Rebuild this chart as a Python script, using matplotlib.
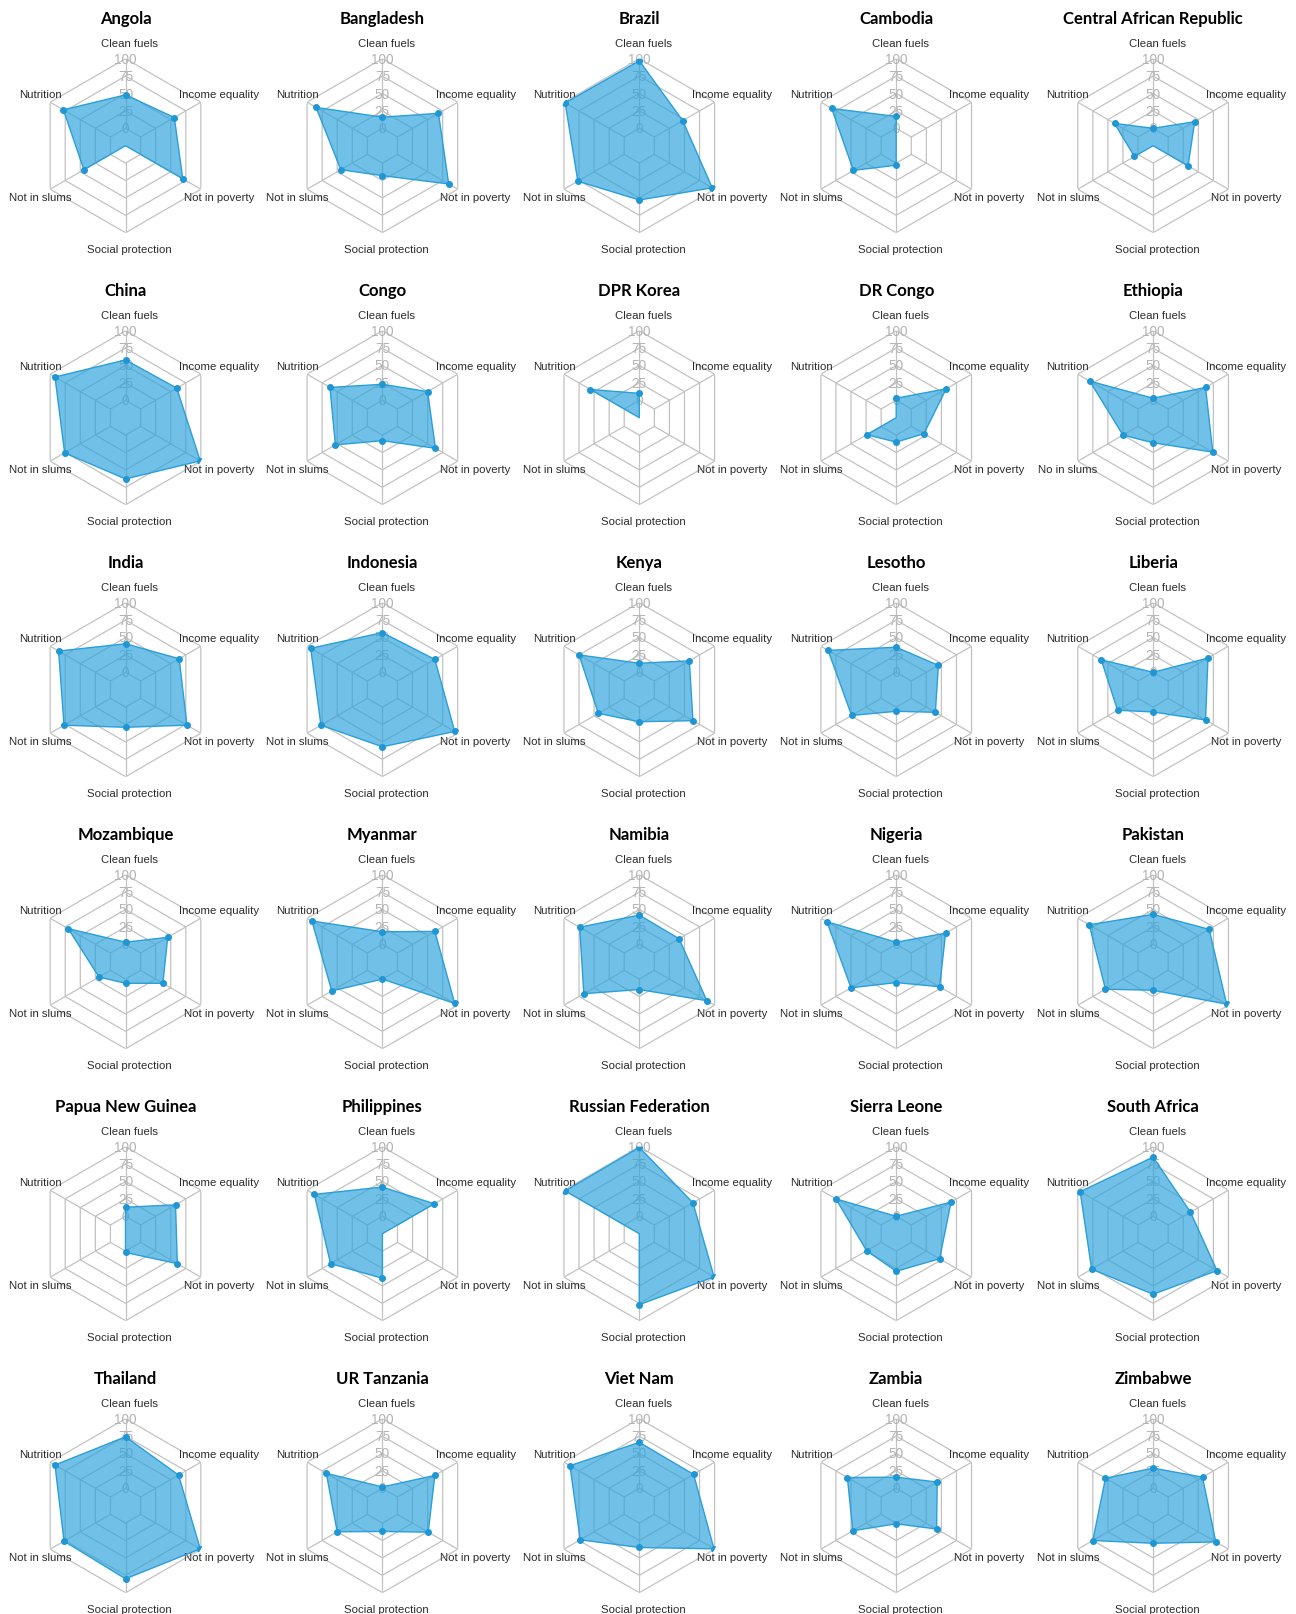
import numpy as np
import matplotlib
matplotlib.use("Agg")
import matplotlib.pyplot as plt
from matplotlib.transforms import offset_copy

# ---------------- data ----------------
countries = [
    "Angola", "Bangladesh", "Brazil", "Cambodia", "Central African Republic",
    "China", "Congo", "DPR Korea", "DR Congo", "Ethiopia",
    "India", "Indonesia", "Kenya", "Lesotho", "Liberia",
    "Mozambique", "Myanmar", "Namibia", "Nigeria", "Pakistan",
    "Papua New Guinea", "Philippines", "Russian Federation", "Sierra Leone", "South Africa",
    "Thailand", "UR Tanzania", "Viet Nam", "Zambia", "Zimbabwe",
]
clean_fuels = [48, 16, 97, 17, 0,
               58, 23, 10, 3, 3,
               41, 57, 13, 36, 0,
               3, 18, 42, 3, 43,
               13, 42, 99, 0, 85,
               74, 2, 66, 16, 29]
income_equality = [56, 68, 47, None, 44,
                   60, 50, None, 58, 62,
                   64, 62, 58, 45, 66,
                   45, 62, 41, 57, 68,
                   58, 61, 64, 66, 37,
                   63, 62, 65, 43, 57]
not_in_poverty = [70, 85, 96, None, 33,
                  99, 63, None, 21, 74,
                  77, 95, 64, 40, 62,
                  37, 95, 87, 47, 97,
                  61, None, 99, 47, 81,
                  99, 51, 99, 42, 79]
social_protection = [None, 18, 53, 3, None,
                     63, 8, None, 10, 11,
                     29, 57, 21, 6, 7,
                     6, 0, 15, 5, 16,
                     2, 39, 77, 29, 62,
                     80, 12, 35, 1, 29]
not_in_slums = [44, 44, 77, 46, 6,
                76, 53, None, 24, 25,
                77, 77, 43, 49, 34,
                19, 59, 67, 50, 54,
                None, 61, None, 24, 77,
                77, 50, 73, 47, 75]
nutrition = [78, 85, 98, 82, 39,
             92, 62, 56, None, 80,
             86, 94, 75, 88, 61,
             70, 92, 74, 90, 81,
             None, 88, 98, 75, 96,
             92, 68, 90, 56, 54]

axis_labels = ["Clean fuels", "Income equality", "Not in poverty",
               "Social protection", "Not in slums", "Nutrition"]
label_overrides = {"Ethiopia": {"Not in slums": "No in slums"}}
ring_ticks = [0, 25, 50, 75, 100]

series = [clean_fuels, income_equality, not_in_poverty,
          social_protection, not_in_slums, nutrition]

# ---------------- style ----------------
W, H, DPI = 1296, 1615, 100
R_PX = 87
RMIN = -25
GRID = "#c2c2c2"
FILL = "#2ea3dc"
EDGE = "#2a9fd8"
MARK = "#1f97d4"
TICK = "#b4b4b4"
LABEL = "#2b2b2b"

fig = plt.figure(figsize=(W / DPI, H / DPI), dpi=DPI)
fig.patch.set_facecolor("white")

col_x = 125.5 + 256.9 * np.arange(5)
row_y = 146.7 + 272.0 * np.arange(6)

n = len(axis_labels)
theta = np.arange(n) * 2 * np.pi / n
closed_theta = np.append(theta, theta[0])

for i, name in enumerate(countries):
    r, c = divmod(i, 5)
    cx, cy = col_x[c], row_y[r]
    ax = fig.add_axes([(cx - R_PX) / W, 1 - (cy + R_PX) / H, 2 * R_PX / W, 2 * R_PX / H],
                      projection="polar")
    ax.set_theta_zero_location("N")
    ax.set_theta_direction(-1)
    ax.set_ylim(RMIN, 100)
    ax.set_xticks([])
    ax.set_yticks([])
    ax.grid(False)
    ax.spines["polar"].set_visible(False)
    ax.patch.set_visible(False)

    # hexagonal grid
    for t in ring_ticks:
        ax.plot(closed_theta, [t] * (n + 1), color=GRID, lw=0.9, zorder=1,
                solid_joinstyle="miter")
    for th in theta:
        ax.plot([th, th], [ring_ticks[0], ring_ticks[-1]], color=GRID, lw=0.9, zorder=1)

    # tick labels along the top axis
    for t in ring_ticks:
        ax.text(0, t, str(t), ha="center", va="center", fontsize=9.8,
                color=TICK, family="Liberation Sans", zorder=2)

    vals = np.array([np.nan if s[i] is None else s[i] for s in series], dtype=float)
    poly = np.where(np.isnan(vals), RMIN, vals)
    ax.fill(closed_theta, np.append(poly, poly[0]), facecolor=FILL, alpha=0.68,
            edgecolor="none", zorder=3)
    ax.plot(closed_theta, np.append(poly, poly[0]), color=EDGE, lw=1.0, zorder=4)
    mask = ~np.isnan(vals)
    ax.plot(theta[mask], vals[mask], "o", ms=4.0, color=MARK, mec=MARK, zorder=5)

    # axis labels
    tr = offset_copy(ax.transData, fig=fig, x=4, y=0, units="dots")
    overrides = label_overrides.get(name, {})
    for th, lab in zip(theta, axis_labels):
        ax.text(th, 123, overrides.get(lab, lab), transform=tr, ha="center", va="center",
                fontsize=8.2, color=LABEL, family="Liberation Sans")

    # title
    ax.text(0.5, 0.5 + 127.7 / (2 * R_PX), name, transform=ax.transAxes,
            ha="center", va="center", fontsize=12, fontweight="bold",
            family="Lato", color="#000000")

fig.savefig("out.png", dpi=DPI, facecolor="white")
